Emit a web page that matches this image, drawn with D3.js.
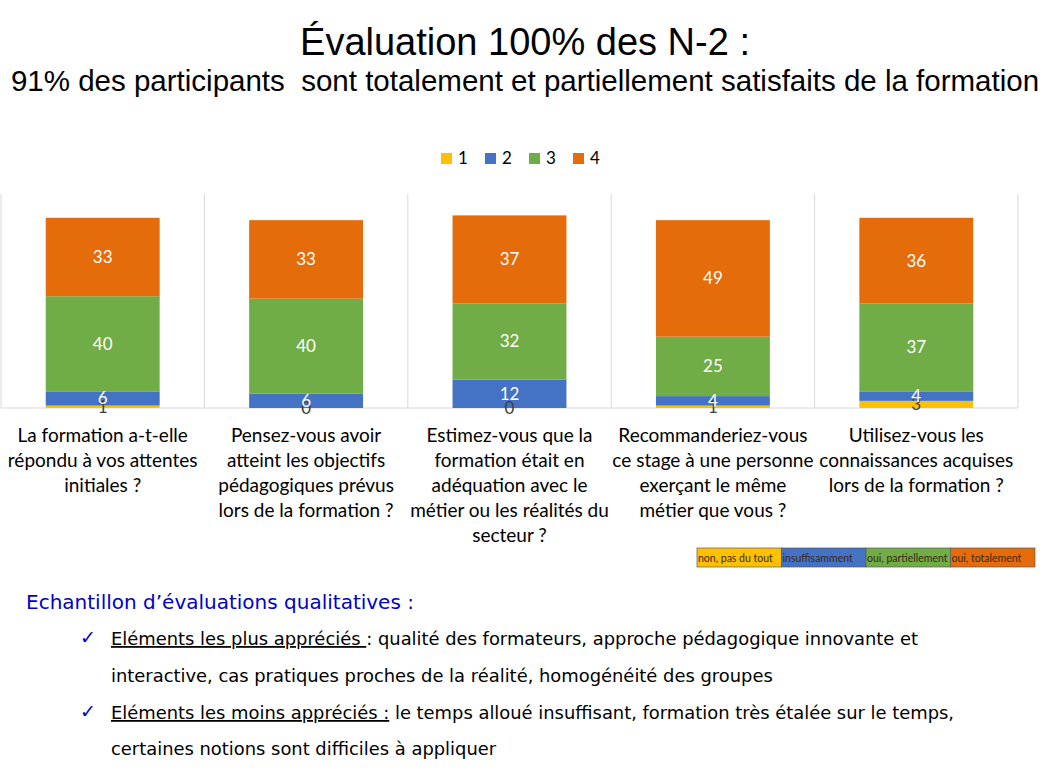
<!DOCTYPE html>
<html>
  <head>
    <meta charset="utf-8">
    <title></title>
  </head>
  <body>
  <style media="screen">
    body { margin:0; background:#fff; }
    svg { display:block; }
  </style>

<svg id="chart" width="1044" height="781"></svg>
<script src="https://d3js.org/d3.v7.min.js"></script>
<script type="text/javascript">
    var categories = [
      ["La formation a-t-elle", "répondu à vos attentes", "initiales ?"],
      ["Pensez-vous avoir", "atteint les objectifs", "pédagogiques prévus", "lors de la formation ?"],
      ["Estimez-vous que la", "formation était en", "adéquation avec le", "métier ou les réalités du", "secteur ?"],
      ["Recommanderiez-vous", "ce stage à une personne", "exerçant le même", "métier que vous ?"],
      ["Utilisez-vous les", "connaissances acquises", "lors de la formation ?"]
    ];
    var seriesNames = ["1", "2", "3", "4"];
    var s1 = [1, 0, 0, 1, 3];
    var s2 = [6, 6, 12, 4, 4];
    var s3 = [40, 40, 32, 25, 37];
    var s4 = [33, 33, 37, 49, 36];
    var scaleLabels = ["non, pas du tout", "insuffisamment", "oui, partiellement", "oui, totalement"];
    var colors = ["#FFC000", "#4472C4", "#70AD47", "#E46C0A"];

    var svg = d3.select('#chart');

    // titles
    svg.append('text').attr('x', 525).attr('y', 55)
      .attr('text-anchor', 'middle')
      .style('font-family', 'Liberation Sans, Arial').style('font-size', '38px')
      .text('Évaluation 100% des N-2 :');
    svg.append('text').attr('x', 525).attr('y', 91)
      .attr('text-anchor', 'middle')
      .style('font-family', 'Liberation Sans, Arial').style('font-size', '29.5px')
      .text('91% des participants\u00a0 sont totalement et partiellement satisfaits de la formation');

    // data table
    var table = categories.map(function(c, i){
      return {i:i, v:[s1[i], s2[i], s3[i], s4[i]]};
    });
    var stacked = d3.stack().keys([0,1,2,3]).value((d,k)=>d.v[k])(table);

    var x = d3.scaleBand().domain(d3.range(categories.length))
      .range([1, 1018]).paddingInner(0.44).paddingOuter(0.22);
    var y = d3.scaleLinear().domain([0, 90]).range([408, 194]);

    // grid
    var g = svg.append('g');
    var step = x.step();
    g.selectAll('line.v').data(d3.range(categories.length + 1)).enter().append('line')
      .attr('x1', d => 1 + d*step).attr('x2', d => 1 + d*step)
      .attr('y1', y(90)).attr('y2', y(0))
      .attr('stroke', '#D9D9D9').attr('stroke-width', 1);
    g.append('line').attr('x1', 1).attr('x2', 1018).attr('y1', y(0)).attr('y2', y(0))
      .attr('stroke', '#D9D9D9');

    // bars
    var layers = g.selectAll('g.layer').data(stacked).enter().append('g')
      .attr('fill', (d,i) => colors[i]);
    layers.selectAll('rect').data(d => d).enter().append('rect')
      .attr('x', (d,i) => x(i))
      .attr('width', x.bandwidth())
      .attr('y', d => y(d[1]))
      .attr('height', d => y(d[0]) - y(d[1]));

    // labels
    stacked.forEach(function(layer, k){
      g.selectAll('text.l' + k).data(layer).enter().append('text')
        .attr('x', (d,i) => x(i) + x.bandwidth()/2)
        .attr('y', d => y((d[0] + d[1]) / 2))
        .attr('dy', '0.35em')
        .attr('text-anchor', 'middle')
        .style('font-family', 'Lato, sans-serif').style('font-size', '17px')
        .attr('fill', k === 0 ? '#404040' : '#fff')
        .text(d => d[1] - d[0]);
    });

    // category labels
    categories.forEach(function(lines, i){
      var t = svg.append('text')
        .attr('text-anchor', 'middle')
        .style('font-family', 'Lato, sans-serif').style('font-size', '19px')
        .attr('fill', '#000');
      lines.forEach(function(l, j){
        t.append('tspan').attr('x', x(i) + x.bandwidth()/2).attr('y', 442 + j*25).text(l);
      });
    });

    // legend
    var leg = svg.append('g').attr('transform', 'translate(441,152)');
    seriesNames.forEach(function(n, i){
      var lg = leg.append('g').attr('transform', 'translate(' + (i*44) + ',0)');
      lg.append('rect').attr('width', 11).attr('height', 11).attr('y', 1).attr('fill', colors[i]);
      lg.append('text').attr('x', 17).attr('y', 12)
        .style('font-family', 'Lato, sans-serif').style('font-size', '17px').text(n);
    });

    // scale box
    var box = svg.append('g').attr('transform', 'translate(697,548)');
    scaleLabels.forEach(function(n, i){
      box.append('rect').attr('x', i*84.5).attr('width', 84.5).attr('height', 19)
        .attr('fill', colors[i]).attr('stroke', '#5a5a5a').attr('stroke-width', 0.7);
      box.append('text').attr('x', i*84.5 + 1).attr('y', 13.5)
        .style('font-family', 'Lato, sans-serif').style('font-size', '10.5px')
        .attr('fill', '#3a2a10').text(n);
    });

    // qualitative text
    var ff = 'DejaVu Sans, sans-serif';
    svg.append('text').attr('x', 26).attr('y', 609)
      .style('font-family', ff).style('font-size', '20px').attr('fill', '#0000CC')
      .text('Echantillon d\u2019évaluations qualitatives :');

    var rows = [
      {check:true, u:'Eléments les plus appréciés ', rest:': qualité des formateurs, approche pédagogique innovante et'},
      {check:false, u:'', rest:'interactive, cas pratiques proches de la réalité, homogénéité des groupes'},
      {check:true, u:'Eléments les moins appréciés :', rest:' le temps alloué insuffisant, formation très étalée sur le temps,'},
      {check:false, u:'', rest:'certaines notions sont difficiles à appliquer'}
    ];
    var rowY = [645, 682, 719, 755];
    rows.forEach(function(r, i){
      if (r.check) {
        svg.append('text').attr('x', 80).attr('y', rowY[i] - 1)
          .style('font-family', 'DejaVu Sans, sans-serif').style('font-size', '19px')
          .attr('fill', '#0000CC').text('\u2713');
      }
      var t = svg.append('text').attr('x', 111).attr('y', rowY[i])
        .style('font-family', ff).style('font-size', '17.9px').attr('fill', '#000');
      if (r.u) t.append('tspan').style('text-decoration', 'underline').text(r.u);
      t.append('tspan').text(r.rest);
    });
</script>
  </body>
</html>
